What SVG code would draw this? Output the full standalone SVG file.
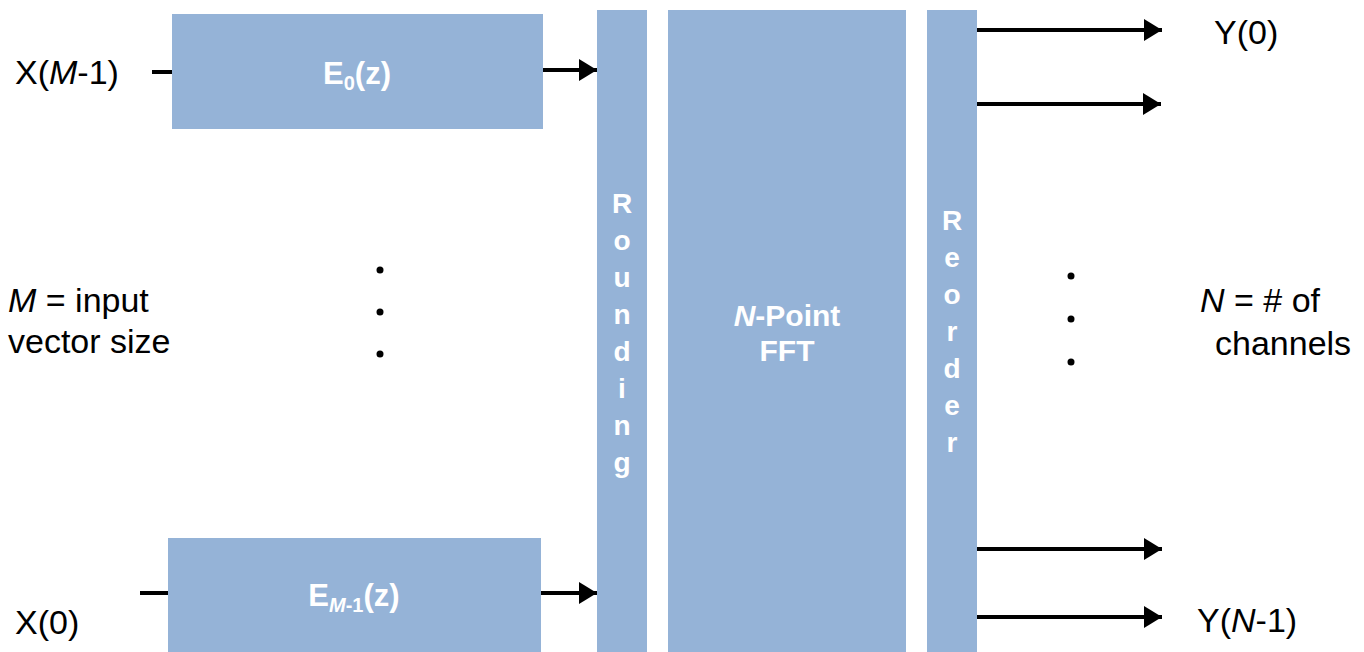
<svg xmlns="http://www.w3.org/2000/svg" width="1364" height="652" viewBox="0 0 1364 652">
<defs>
<style>
.box{fill:#95B3D7;}
.lbl{font-family:"Liberation Sans",Arial,sans-serif;font-size:34px;fill:#000;}
.in{font-family:"Liberation Sans",Arial,sans-serif;font-weight:bold;fill:#fff;}
.wire{stroke:#000;stroke-width:4;fill:none;}
.dot{fill:#000;}
</style>
<marker id="ah" markerUnits="userSpaceOnUse" markerWidth="18" markerHeight="22" refX="18" refY="11" orient="auto">
<path d="M0,0 L18,11 L0,22 Z" fill="#000"/>
</marker>
</defs>
<rect width="1364" height="652" fill="#fff"/>

<g id="E0">
<rect class="box" x="172" y="14" width="371" height="115"/>
<text class="in" x="357" y="84" font-size="31" text-anchor="middle">E<tspan font-size="20" dy="6">0</tspan><tspan dy="-6">(z)</tspan></text>
</g>
<g id="EM1">
<rect class="box" x="168" y="538" width="373" height="114"/>
<text class="in" x="354" y="606" font-size="31" text-anchor="middle">E<tspan font-size="20" dy="6" font-style="italic">M</tspan><tspan font-size="20">-1</tspan><tspan dy="-6">(z)</tspan></text>
</g>
<g id="rounding">
<rect class="box" x="597" y="10" width="50" height="642"/>
<text class="in" font-size="28" text-anchor="middle">
<tspan x="622" y="213">R</tspan><tspan x="622" y="250">o</tspan><tspan x="622" y="287">u</tspan><tspan x="622" y="324">n</tspan><tspan x="622" y="361">d</tspan><tspan x="622" y="398">i</tspan><tspan x="622" y="435">n</tspan><tspan x="622" y="472">g</tspan>
</text>
</g>
<g id="fft">
<rect class="box" x="668" y="10" width="238" height="642"/>
<text class="in" font-size="30" text-anchor="middle"><tspan x="787" y="326"><tspan font-style="italic">N</tspan>-Point</tspan><tspan x="787" y="361">FFT</tspan></text>
</g>
<g id="reorder">
<rect class="box" x="927" y="10" width="50" height="642"/>
<text class="in" font-size="28" text-anchor="middle">
<tspan x="952" y="230">R</tspan><tspan x="952" y="267">e</tspan><tspan x="952" y="304">o</tspan><tspan x="952" y="341">r</tspan><tspan x="952" y="378">d</tspan><tspan x="952" y="415">e</tspan><tspan x="952" y="452">r</tspan>
</text>
</g>

<g id="connectors">
<line class="wire" x1="152" y1="72" x2="172" y2="72"/>
<line class="wire" x1="140" y1="593" x2="168" y2="593"/>
<line class="wire" x1="543" y1="70" x2="597" y2="70" marker-end="url(#ah)"/>
<line class="wire" x1="541" y1="593" x2="597" y2="593" marker-end="url(#ah)"/>
<line class="wire" x1="977" y1="30" x2="1162" y2="30" marker-end="url(#ah)"/>
<line class="wire" x1="977" y1="104" x2="1161" y2="104" marker-end="url(#ah)"/>
<line class="wire" x1="977" y1="549" x2="1162" y2="549" marker-end="url(#ah)"/>
<line class="wire" x1="977" y1="617" x2="1162" y2="617" marker-end="url(#ah)"/>
</g>

<g id="labels">
<text class="lbl" x="15" y="84">X(<tspan font-style="italic">M</tspan>-1)</text>
<text class="lbl" x="15" y="634">X(0)</text>
<text class="lbl" x="8" y="312"><tspan font-style="italic">M</tspan> = input</text>
<text class="lbl" x="8" y="353">vector size</text>
<text class="lbl" x="1214" y="44">Y(0)</text>
<text class="lbl" x="1197" y="632">Y(<tspan font-style="italic">N</tspan>-1)</text>
<text class="lbl" x="1200" y="312"><tspan font-style="italic">N</tspan> = # of</text>
<text class="lbl" x="1215" y="355">channels</text>
</g>

<g id="dots">
<circle class="dot" cx="380" cy="270" r="3.5"/>
<circle class="dot" cx="380" cy="312" r="3.5"/>
<circle class="dot" cx="380" cy="354" r="3.5"/>
<circle class="dot" cx="1071" cy="276" r="3.5"/>
<circle class="dot" cx="1071" cy="319" r="3.5"/>
<circle class="dot" cx="1071" cy="362" r="3.5"/>
</g>
</svg>
